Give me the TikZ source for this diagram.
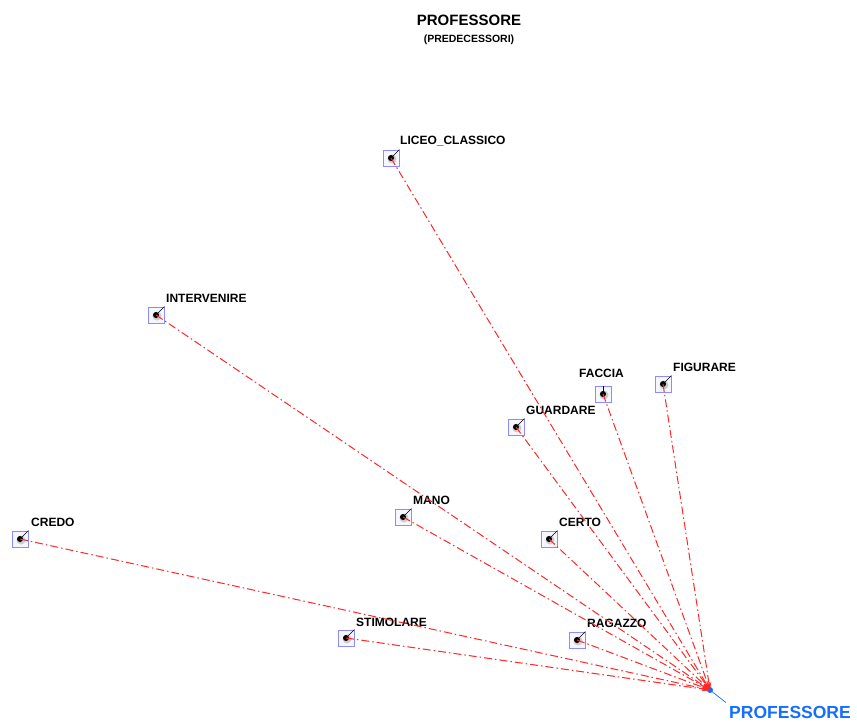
\documentclass[tikz,border=0pt]{standalone}
\usepackage{fontspec}
\setmainfont{Liberation Sans}
\usetikzlibrary{arrows.meta}
\definecolor{edgered}{RGB}{255,40,40}
\definecolor{boxblue}{RGB}{140,140,255}
\definecolor{profblue}{RGB}{20,110,255}
\tikzset{
  sq/.style={draw=boxblue, fill=boxblue!8, line width=0.8pt, minimum size=16pt, inner sep=0pt, shape=rectangle},
  shadowdot/.style={circle, fill=black!20, minimum size=9pt, inner sep=0pt},
  dotn/.style={circle, fill=black, minimum size=6pt, inner sep=0pt},
  lbl/.style={anchor=west, inner sep=0pt, font=\fontsize{12}{14}\selectfont\bfseries},
  leader/.style={draw=black, line width=0.6pt},
  edge/.style={draw=edgered, line width=1pt, dash pattern=on 8pt off 3pt on 1.5pt off 3pt, -{Stealth[length=8pt,width=5pt,fill=edgered]}}
}
\begin{document}
\begin{tikzpicture}[x=1pt,y=-1pt]
\useasboundingbox (0,0) rectangle (857,722);
\node[font=\fontsize{15}{17}\selectfont\bfseries] (title) at (469,20) {PROFESSORE};
\node[font=\fontsize{10.5}{12}\selectfont\bfseries] (subtitle) at (469,40) {(PREDECESSORI)};
% target
\node[circle, fill=profblue, minimum size=6pt, inner sep=0pt] (prof) at (710,690) {};
\node[font=\fontsize{17.5}{20}\selectfont\bfseries, text=profblue, inner sep=0pt] (profL) at (790,712) {PROFESSORE};
\draw[profblue, line width=0.7pt] (prof.center) -- ([xshift=-3pt,yshift=3pt]profL.north west);
% source nodes: name / x / y / label x / label y / text
\foreach \n/\x/\y/\lx/\ly/\t in {
  liceo/391/158/400/141/LICEO\_CLASSICO,
  interv/156/315/166/298/INTERVENIRE,
  credo/20/539/31/522/CREDO,
  figur/663/384/673/367/FIGURARE,
  guard/516/427/526/410/GUARDARE,
  mano/403/517/413/500/MANO,
  certo/549/539/559/522/CERTO,
  stimo/346/638/356/622/STIMOLARE,
  ragaz/577/640/587/623/RAGAZZO}{
  \node[sq] (\n B) at (\x,\y) {};
  \node[shadowdot] (\n S) at (\x+1,\y+1) {};
  \node[dotn] (\n) at (\x,\y) {};
  \node[lbl] (\n L) at (\lx,\ly) {\t};
  \draw[leader] (\n.center) -- (\n B.north east);
}
% FACCIA (label above)
\node[sq] (facciaB) at (603,394) {};
\node[shadowdot] (facciaS) at (604,395) {};
\node[dotn] (faccia) at (603,394) {};
\node[lbl] (facciaL) at (579,373) {FACCIA};
\draw[leader] (faccia.center) -- (facciaB.north);
% edges
\foreach \n in {liceo,interv,credo,figur,guard,mano,certo,stimo,ragaz,faccia}{
  \draw[edge] (\n.center) -- (prof.center);
}
\end{tikzpicture}
\end{document}
